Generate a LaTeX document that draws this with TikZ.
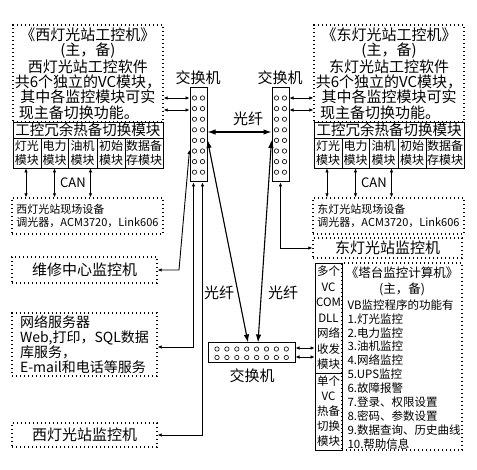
\documentclass[tikz,border=0pt]{standalone}
\usepackage{fontspec}
\setmainfont{Noto Sans CJK SC}
\usetikzlibrary{arrows.meta,calc}

\begin{document}
\begin{tikzpicture}[
  x=1pt,y=-1pt,>=Latex,
  link/.style={{Latex[length=4pt,width=3.6pt]}-{Latex[length=4pt,width=3.6pt]},line width=0.9pt},
  fibre/.style={{Latex[length=8pt,width=5.5pt]}-{Latex[length=8pt,width=5.5pt]},line width=1.1pt},
  dotbox/.style={draw,line width=1.4pt,dash pattern=on 1.4pt off 2.6pt,inner sep=0pt},
  cell/.style={draw,line width=0.9pt,inner sep=0pt,align=center},
  switch/.style={draw,line width=1pt,inner sep=0pt},
  hole/.style={line width=0.6pt},
  bigtext/.style={font=\fontsize{15}{15.3}\selectfont},
  celltext/.style={font=\fontsize{12}{14}\selectfont},
  fieldtext/.style={font=\fontsize{11}{13}\selectfont},
  servertext/.style={font=\fontsize{14}{15}\selectfont},
  towertext/.style={font=\fontsize{11.5}{15.5}\selectfont},
  titletext/.style={font=\fontsize{12.5}{16}\selectfont},
  listtext/.style={font=\fontsize{11.5}{13.9}\selectfont}
]
\useasboundingbox (0,0) rectangle (477,470);

% Station panels.
\foreach \s/\dx/\stn in {w/0/西,e/301/东}{
  \node[dotbox,bigtext,align=center,minimum width=150,minimum height=97] (\s-pc) at (88+\dx,73.5)
    {《\stn 灯光站工控机》\\(主，备)\\\stn 灯光站工控软件\\共6个独立的VC模块，\\其中各监控模块可实\\\makebox[138pt][l]{现主备切换功能。}};
  \node[cell,font=\fontsize{14.5}{15}\selectfont,minimum width=150,minimum height=16] (\s-red) at (88+\dx,130) {工控冗余热备切换模块};
  \foreach \cx/\cw/\txt [count=\i] in {27/28/{灯光\\模块},54.5/27/{电力\\模块},82.5/29/{油机\\模块},111/28/{初始\\模块},144/38/{数据备\\存模块}}
    \node[cell,celltext,minimum width=\cw,minimum height=30] (\s-m\i) at (\cx+\dx,153) {\txt};
  \node[dotbox,fieldtext,align=left,minimum width=151,minimum height=36] (\s-field) at (87.5+\dx,216)
    {\stn 灯光站现场设备\\调光器，ACM3720，Link606};
  \foreach \k/\sh in {1/-1,2/0,3/8}{
    \coordinate (\s-can\k) at ([xshift=\sh]\s-m\k.south);
    \draw[link] (\s-can\k) -- (\s-can\k |- \s-field.north);
  }
  \node[font=\fontsize{13}{14}\selectfont] (\s-can) at (73+\dx,183) {CAN};
}

% Switches.
\node[switch,minimum width=17,minimum height=94] (swW) at (198.5,135) {};
\node[switch,minimum width=17,minimum height=94] (swE) at (280.5,135) {};
\node[switch,minimum width=87,minimum height=20] (swB) at (251.5,353) {};
\foreach \r in {0,...,7}{
  \foreach \c in {-4,4}{
    \draw[hole] (198.5+\c,98+\r*10.6) circle (2.2pt);
    \draw[hole] (280.5+\c,98+\r*10.6) circle (2.2pt);
  }
  \draw[hole] (217+\r*9.9,349) circle (2.2pt);
  \draw[hole] (217+\r*9.9,357.5) circle (2.2pt);
}
\node[bigtext] (swWlab) at (198,78) {交换机};
\node[bigtext] (swElab) at (280,78) {交换机};
\node[bigtext] (swBlab) at (252,376) {交换机};

% Station links.
\draw[link] (w-pc.east |- 0,98) -- (swW.west |- 0,98);
\draw[link] (w-pc.east |- 0,110) -- (swW.west |- 0,110);
\draw[link] (swE.east |- 0,98) -- (e-pc.west |- 0,98);
\draw[link] (swE.east |- 0,110) -- (e-pc.west |- 0,110);
\draw[fibre] (swW.east |- 0,132) -- (swE.west |- 0,132);
\node[bigtext] (fibreTop) at (248,119) {光纤};

% Left side terminals.
\node[dotbox,bigtext,minimum width=145,minimum height=26] (repair) at (84.5,270) {维修中心监控机};
\node[dotbox,servertext,align=left,minimum width=145,minimum height=63] (server) at (84.5,344.5)
  {网络服务器\\Web,打印，SQL数据\\库服务，\\E-mail和电话等服务};
\node[dotbox,bigtext,minimum width=145,minimum height=24] (wmon) at (84.5,435) {西灯光站监控机};
\coordinate (wtap1) at ([xshift=-5]swW.south);
\coordinate (wtap2) at ([xshift=4]swW.south);
\draw[link] (repair.east) -- (179,270) -- (swW.west |- 0,150);
\draw[link] (server.east |- 0,347) -- (wtap1 |- 0,347) -- (wtap1);
\draw[link] (wmon.east) -- (wtap2 |- wmon.east) -- (wtap2);

% East monitor.
\node[dotbox,bigtext,minimum width=149,minimum height=20] (emon) at (387.5,248) {东灯光站监控机};
\draw[link] (emon.west) -- (swE.south |- emon.west) -- (swE.south);

% Fibre to tower.
\draw[fibre] (swW.east |- 0,140) -- (swB.north -| 248,0);
\draw[fibre] (swE.west |- 0,140) -- (swB.north -| 258,0);
\node[bigtext] (fibreL) at (219,293) {光纤};
\node[bigtext] (fibreR) at (283,293) {光纤};

% Tower computer.
\node[cell,towertext,minimum width=27,minimum height=110] (tvc1) at (328.5,318) {多个\\VC\\COM\\DLL\\网络\\收发\\模块};
\node[cell,towertext,font=\fontsize{11.5}{15}\selectfont,minimum width=27,minimum height=77] (tvc2) at (328.5,411.5) {单个\\VC\\热备\\切换\\模块};
\node[dotbox,minimum width=120,minimum height=187] (tower) at (402,356.5) {};
\node[titletext,align=center] (towerhead) at (402,281) {《塔台监控计算机》\\(主，备)};
\node[listtext,align=left,anchor=north west] (towerlist) at (344,296)
  {VB监控程序的功能有\\1.灯光监控\\2.电力监控\\3.油机监控\\4.网络监控\\5.UPS监控\\6.故障报警\\7.登录、权限设置\\8.密码、参数设置\\9.数据查询、历史曲线\\10.帮助信息};
\draw[link] (swB.east |- 0,348) -- (tvc1.west |- 0,348);
\draw[link] (swB.east |- 0,357) -- (tvc1.west |- 0,357);
\end{tikzpicture}
\end{document}
